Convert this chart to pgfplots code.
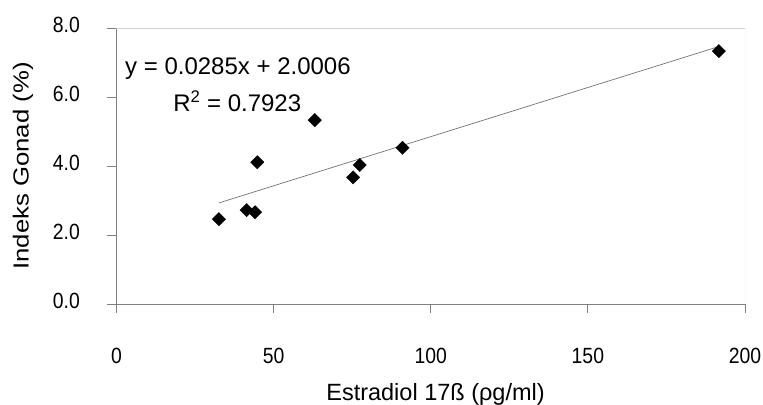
\documentclass[border=0pt]{standalone}
\usepackage{pgfplots}
\pgfplotsset{compat=1.18}
\usepackage{fontspec}
\setmainfont{Liberation Sans}
\usepackage{graphicx}

\definecolor{axisgray}{HTML}{808080}
\definecolor{framegray}{HTML}{D4D4D4}

\begin{document}
\begin{tikzpicture}
\begin{axis}[
  scale only axis,
  width=628.5bp, height=276bp,
  xmin=0, xmax=200, ymin=0, ymax=8,
  xtick={0,50,100,150,200}, ytick={0,2,4,6,8},
  axis lines*=left,
  axis line style={axisgray, line width=0.8bp, -},
  tick align=outside,
  major tick length=9bp,
  tick style={axisgray, line width=0.8bp},
  /pgf/number format/assume math mode=true,
  ticklabel style={font=\fontsize{22bp}{26bp}\selectfont, inner sep=0pt},
  yticklabel={\scalebox{0.88}[1]{\pgfmathprintnumber[fixed,fixed zerofill,precision=1]{\tick}}},
  xticklabel={\scalebox{0.88}[1]{\pgfmathprintnumber{\tick}}},
  yticklabel style={anchor=east, xshift=-27.5bp, yshift=3bp},
  xticklabel style={anchor=north, yshift=-35bp},
  xlabel={Estradiol 17ß (ρg/ml)},
  xlabel style={at={(axis description cs:0.5076,-0.3514)}, anchor=base,
    font=\fontsize{23.5bp}{28bp}\selectfont},
  ylabel={\scalebox{1.18}[1]{Indeks Gonad (\%)}},
  ylabel style={at={(axis description cs:-0.1400,0.5)}, anchor=base,
    font=\fontsize{21.8bp}{26bp}\selectfont},
]
% light frame on top and right
\draw[framegray, line width=0.8bp] (rel axis cs:0,1) -- (rel axis cs:1,1) -- (rel axis cs:1,0);

% linear trend
\addplot[black!55, line width=0.7bp, no marks] coordinates {(32.6,2.930) (191.7,7.464)};

% measurements
\addplot[only marks, mark=square*, mark size=4.7bp, mark options={rotate=45, fill=black, draw=black}]
  coordinates {
    (32.6,2.46) (41.4,2.72) (44.1,2.66) (44.8,4.11) (63.1,5.33)
    (75.3,3.67) (77.4,4.03) (91.0,4.53) (191.7,7.33)
  };

\node[anchor=base west, inner sep=0pt, font=\fontsize{24bp}{28bp}\selectfont]
  at (axis cs:2.7,6.64) {y = 0.0285x + 2.0006};
\node[anchor=base west, inner sep=0pt, font=\fontsize{24bp}{28bp}\selectfont]
  at (axis cs:18.0,5.57) {R\textsuperscript{2} = 0.7923};
\end{axis}
\pgfresetboundingbox
\path (-116.5bp,-101bp) rectangle (646.5bp,304bp);
\end{tikzpicture}
\end{document}
